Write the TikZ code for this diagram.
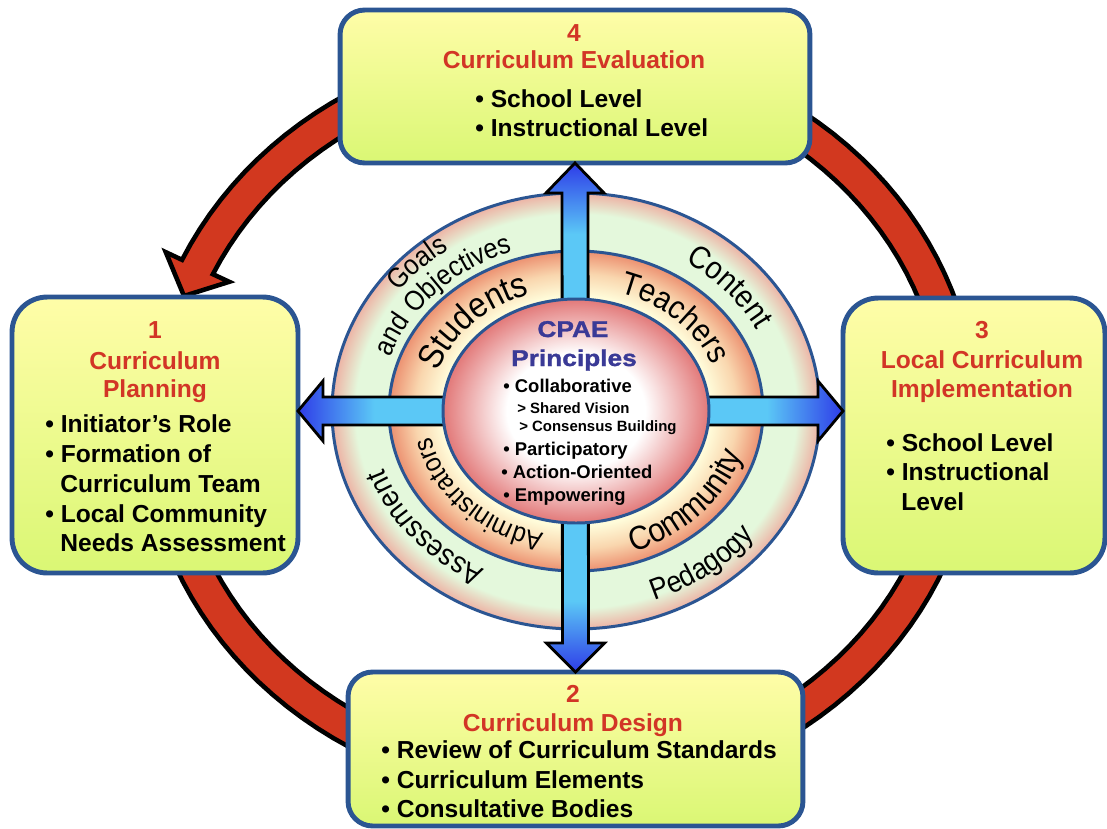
\documentclass[tikz,border=0pt]{standalone}
\usepackage{fontspec}
\setmainfont{Liberation Sans}
\newfontfamily\widebold[FakeStretch=1.15, FakeBold=1.3]{Liberation Sans Bold}
\newfontfamily\ringfamily[FakeStretch=0.9]{Liberation Sans}
\usetikzlibrary{calc, decorations.text}

\definecolor{boxblue}{HTML}{2B5592}
\definecolor{boxtop}{HTML}{FFFDA8}
\definecolor{boxbottom}{HTML}{DAF774}
\definecolor{titlered}{HTML}{D23526}
\definecolor{bandred}{HTML}{D2381F}
\definecolor{arrowdark}{HTML}{2E3CE8}
\definecolor{arrowlight}{HTML}{5BC8F6}
\definecolor{ringgreen}{HTML}{E4F8DC}
\definecolor{ringpink}{HTML}{EDB2A4}
\definecolor{midyellow}{HTML}{FFFCDA}
\definecolor{midorange}{HTML}{F9D6AE}
\definecolor{midsalmon}{HTML}{EC9070}
\definecolor{corepink}{HTML}{E27878}
\definecolor{cpaeblue}{HTML}{3A3A96}

\pgfdeclareradialshading{outerring}{\pgfpointorigin}{color(0bp)=(ringgreen); color(22.6bp)=(ringgreen); color(25bp)=(ringpink); color(50bp)=(ringpink)}
\pgfdeclareradialshading{middlering}{\pgfpointorigin}{color(0bp)=(midyellow); color(18bp)=(midyellow); color(21.5bp)=(midorange); color(25bp)=(midsalmon); color(50bp)=(midsalmon)}
\pgfdeclareradialshading{corering}{\pgfpointorigin}{color(0bp)=(white); color(13bp)=(white); color(25bp)=(corepink); color(50bp)=(corepink)}
\pgfdeclarehorizontalshading{arrowh}{100bp}{color(0bp)=(arrowdark); color(25bp)=(arrowdark); color(32bp)=(arrowlight); color(68bp)=(arrowlight); color(75bp)=(arrowdark); color(100bp)=(arrowdark)}
\pgfdeclareverticalshading{arrowv}{100bp}{color(0bp)=(arrowdark); color(25bp)=(arrowdark); color(32bp)=(arrowlight); color(68bp)=(arrowlight); color(75bp)=(arrowdark); color(100bp)=(arrowdark)}

\newcommand{\boxfont}{\fontsize{14}{16}\selectfont\bfseries}
\newcommand{\corefont}{\fontsize{10.5}{12}\selectfont\bfseries}
\newcommand{\subfont}{\fontsize{8.5}{10}\selectfont\bfseries}
\newcommand{\ringsize}[1]{\ringfamily\fontsize{#1}{#1}\selectfont}

\tikzset{
  stagebox/.style={draw=boxblue, line width=2.8pt, rounded corners=14pt, top color=boxtop, bottom color=boxbottom, outer sep=0pt, inner sep=0pt},
  ringline/.style={draw=boxblue, line width=1.7pt},
  bluearrow/.style={draw=black, line width=1.6pt},
  bandline/.style={fill=bandred, draw=black, line width=2.6pt},
  boxtext/.style={font=\boxfont, inner sep=0pt},
  boxtitle/.style={boxtext, text=titlered},
  coretext/.style={font=\corefont, inner sep=0pt},
  ringword/.style={decorate, decoration={text along path, text align=center, text={#1}}}
}

\begin{document}
\begin{tikzpicture}[x=0.02cm, y=-0.02cm]
\useasboundingbox (0,0) rectangle (1107,829);
\coordinate (hub) at (576,411);
%--------------------------------------------------- cycle band
\filldraw[bandline] plot[domain=-160:155, samples=120] ({560+417*cos(\x)}, {420-379*sin(\x)})
   -- (165.8,252.2) -- (184,296) -- (229.2,281.8)
   -- plot[domain=155:-160, samples=120] ({560+383*cos(\x)}, {420-345*sin(\x)}) -- cycle;
%--------------------------------------------------- rings
\shadedraw[ringline, shading=outerring] (hub) ellipse[x radius=244, y radius=218];
\shadedraw[ringline, shading=middlering] (hub) ellipse[x radius=187, y radius=160];
%--------------------------------------------------- stage boxes
\node[stagebox, minimum width=9.4cm, minimum height=3.06cm] (evalbox) at (575,86.5) {};
\node[stagebox, rounded corners=20pt, minimum width=5.72cm, minimum height=5.52cm] (planbox) at (155,435) {};
\node[stagebox, rounded corners=20pt, minimum width=5.24cm, minimum height=5.5cm] (implbox) at (974,435.5) {};
\node[stagebox, minimum width=9.1cm, minimum height=3.08cm] (designbox) at (575.5,749) {};
\coordinate (lefttip) at (planbox.east |- hub);
\coordinate (righttip) at (implbox.west |- hub);
%--------------------------------------------------- double arrows
\shadedraw[bluearrow, shading=arrowv] (evalbox.south) -- ++(29,30) -- ++(-16,0)
   -- ($(designbox.north)+(13,-29)$) -- ++(16,0) -- (designbox.north) -- ++(-29,-29) -- ++(16,0)
   -- ($(evalbox.south)+(-13,30)$) -- ++(-16,0) -- cycle;
\shadedraw[bluearrow, shading=arrowh] (lefttip) -- ++(25,-30) -- ++(0,16)
   -- ($(righttip)+(-25,-14)$) -- ++(0,-16) -- (righttip) -- ++(-25,30) -- ++(0,-16)
   -- ($(lefttip)+(25,14)$) -- ++(0,16) -- cycle;
%--------------------------------------------------- core
\shadedraw[ringline, shading=corering] (hub) ellipse[x radius=133, y radius=112];
%--------------------------------------------------- ring words
\path[ringword={|\ringsize{20}|Students}] plot[domain=176:96, samples=80] ({576+146*cos(\x)}, {411-123*sin(\x)});
\path[ringword={|\ringsize{18.5}|Teachers}] plot[domain=86:6, samples=80] ({576+147*cos(\x)}, {411-124*sin(\x)});
\path[ringword={|\ringsize{19}|Community}] plot[domain=-83:-3, samples=80] ({576+174*cos(\x)}, {411-149*sin(\x)});
\path[ringword={|\ringsize{15.5}|Administrators}] plot[domain=264:184, samples=80] ({576+148*cos(\x)}, {411-125*sin(\x)});
\path[ringword={|\ringsize{18}|Content}] plot[domain=81:1, samples=80] ({576+203*cos(\x)}, {411-177*sin(\x)});
\path[ringword={|\ringsize{17}|Pedagogy}] plot[domain=-93:-13, samples=80] ({576+228*cos(\x)}, {411-202*sin(\x)});
\path[ringword={|\ringsize{17}|Assessment}] plot[domain=260:180, samples=80] ({576+203*cos(\x)}, {411-177*sin(\x)});
\path[ringword={|\ringsize{16}|Goals}] plot[domain=175:95, samples=80] ({576+224*cos(\x)}, {411-196*sin(\x)});
\path[ringword={|\ringsize{16}|and Objectives}] plot[domain=176:96, samples=80] ({576+196*cos(\x)}, {411-168*sin(\x)});
%--------------------------------------------------- CPAE principles
\node[font=\widebold\fontsize{13}{15}\selectfont, text=cpaeblue, inner sep=0pt, anchor=base] (cpae) at (573,337) {CPAE};
\node[font=\widebold\fontsize{13}{15}\selectfont, text=cpaeblue, inner sep=0pt, anchor=base] (principles) at (574,366) {Principles};
\node[coretext, anchor=base west] (c1) at (503,392) {• Collaborative};
\node[coretext, font=\subfont, anchor=base west] (c1a) at (517,413) {> Shared Vision};
\node[coretext, font=\subfont, anchor=base west] (c1b) at (519,431) {> Consensus Building};
\node[coretext, anchor=base west] (c2) at (503,455) {• Participatory};
\node[coretext, anchor=base west] (c3) at (501,478) {• Action-Oriented};
\node[coretext, anchor=base west] (c4) at (503,501) {• Empowering};
%--------------------------------------------------- 4 evaluation
\node[boxtitle, anchor=base] (n4) at (574,41) {4};
\node[boxtitle, anchor=base] (t4) at (574,68) {Curriculum Evaluation};
\node[boxtext, anchor=base west] (e1) at (475,107) {• School Level};
\node[boxtext, anchor=base west] (e2) at (475,136) {• Instructional Level};
%--------------------------------------------------- 1 planning
\node[boxtitle, anchor=base] (n1) at (155,338) {1};
\node[boxtitle, anchor=base] (t1a) at (155,369) {Curriculum};
\node[boxtitle, anchor=base] (t1b) at (155,397) {Planning};
\node[boxtext, anchor=base west] (p1) at (45,432) {• Initiator’s Role};
\node[boxtext, anchor=base west] (p2) at (45,462) {• Formation of};
\node[boxtext, anchor=base west] (p2b) at (60,492) {Curriculum Team};
\node[boxtext, anchor=base west] (p3) at (45,522) {• Local Community};
\node[boxtext, anchor=base west] (p3b) at (60,551) {Needs Assessment};
%--------------------------------------------------- 3 implementation
\node[boxtitle, anchor=base] (n3) at (982,338) {3};
\node[boxtitle, anchor=base] (t3a) at (982,368) {Local Curriculum};
\node[boxtitle, anchor=base] (t3b) at (982,397) {Implementation};
\node[boxtext, anchor=base west] (i1) at (886,451) {• School Level};
\node[boxtext, anchor=base west] (i2) at (886,480) {• Instructional};
\node[boxtext, anchor=base west] (i2b) at (901,510) {Level};
%--------------------------------------------------- 2 design
\node[boxtitle, anchor=base] (n2) at (573,702) {2};
\node[boxtitle, anchor=base] (t2) at (573,731) {Curriculum Design};
\node[boxtext, anchor=base west] (d1) at (381,758) {• Review of Curriculum Standards};
\node[boxtext, anchor=base west] (d2) at (381,788) {• Curriculum Elements};
\node[boxtext, anchor=base west] (d3) at (381,817) {• Consultative Bodies};
\end{tikzpicture}
\end{document}
